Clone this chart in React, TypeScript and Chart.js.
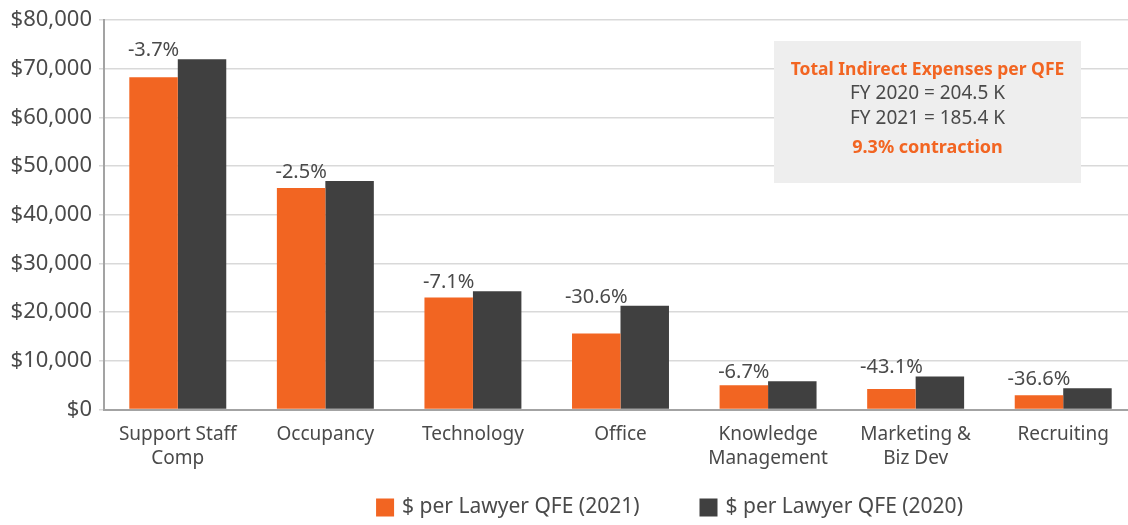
import React, { useEffect, useRef } from "react";
import { Chart, registerables } from "chart.js";

Chart.register(...registerables);

const categories: (string | string[])[] = [
  ["Support Staff", "Comp"],
  "Occupancy",
  "Technology",
  "Office",
  ["Knowledge", "Management"],
  ["Marketing &", "Biz Dev"],
  "Recruiting",
];
const values2021 = [68300, 45500, 23000, 15600, 5000, 4200, 2950];
const values2020 = [72000, 46950, 24300, 21300, 5800, 6800, 4380];
const changeLabels = ["-3.7%", "-2.5%", "-7.1%", "-30.6%", "-6.7%", "-43.1%", "-36.6%"];
const seriesNames = ["$ per Lawyer QFE (2021)", "$ per Lawyer QFE (2020)"];
const yMin = 0;
const yMax = 80000;
const yStep = 10000;
const noteTitle = "Total Indirect Expenses per QFE";
const noteLines = ["FY 2020 = 204.5 K", "FY 2021 = 185.4 K"];
const noteFooter = "9.3% contraction";

const ORANGE = "#f26522";
const DARK = "#404040";
const TEXT = "#4a4a4a";
const FONT = "'Noto Sans', sans-serif";

const overlayPlugin = {
  id: "overlay",
  afterDatasetsDraw(chart: any) {
    const ctx = chart.ctx;
    const m0 = chart.getDatasetMeta(0).data;
    const m1 = chart.getDatasetMeta(1).data;
    ctx.save();
    ctx.font = `20px ${FONT}`;
    ctx.fillStyle = TEXT;
    ctx.textAlign = "center";
    ctx.textBaseline = "middle";
    changeLabels.forEach((lab, i) => {
      const a = m0[i];
      const b = m1[i];
      if (!a || !b) return;
      ctx.fillText(lab, a.x, Math.min(a.y, b.y) - 9);
    });

    // note box
    const bx = 774, by = 41, bw = 307, bh = 142;
    ctx.fillStyle = "#eeeeee";
    ctx.fillRect(bx, by, bw, bh);
    const cx = bx + bw / 2;
    ctx.fillStyle = ORANGE;
    ctx.font = `bold 17.5px ${FONT}`;
    ctx.fillText(noteTitle, cx, 70);
    ctx.fillStyle = TEXT;
    ctx.font = `19px ${FONT}`;
    ctx.fillText(noteLines[0], cx, 94);
    ctx.fillText(noteLines[1], cx, 119);
    ctx.fillStyle = ORANGE;
    ctx.font = `bold 18px ${FONT}`;
    ctx.fillText(noteFooter, cx, 148);

    // legend
    ctx.font = `21px ${FONT}`;
    ctx.textAlign = "left";
    const box = 18, gap = 8, itemGap = 60;
    const w0 = ctx.measureText(seriesNames[0]).width;
    const w1 = ctx.measureText(seriesNames[1]).width;
    const total = box + gap + w0 + itemGap + box + gap + w1;
    let x = 669.5 - total / 2;
    const ly = 507.5;
    const colors = [ORANGE, DARK];
    [w0, w1].forEach((w, i) => {
      ctx.fillStyle = colors[i];
      ctx.fillRect(x, ly - box / 2, box, box);
      ctx.fillStyle = TEXT;
      ctx.fillText(seriesNames[i], x + box + gap, ly);
      x += box + gap + w + itemGap;
    });
    ctx.restore();
  },
};

function BarChart() {
  const ref = useRef<HTMLCanvasElement | null>(null);
  useEffect(() => {
    document.body.style.margin = "0";
    if (!ref.current) return;
    const chart = new Chart(ref.current, {
      type: "bar",
      data: {
        labels: categories,
        datasets: [
          { label: seriesNames[0], data: values2021, backgroundColor: ORANGE },
          { label: seriesNames[1], data: values2020, backgroundColor: DARK },
        ],
      },
      options: {
        responsive: false,
        animation: false,
        devicePixelRatio: 1,
        layout: { padding: { top: 17, bottom: 40, left: 0, right: 0 } },
        datasets: { bar: { categoryPercentage: 0.657, barPercentage: 1 } },
        plugins: { legend: { display: false }, tooltip: { enabled: false } },
        scales: {
          x: {
            grid: { display: false, drawTicks: false },
            border: { display: true, color: "#a3a3a3", width: 2 },
            ticks: {
              color: TEXT,
              font: { family: FONT, size: 19, lineHeight: 1.26 },
              padding: 13,
              maxRotation: 0,
              autoSkip: false,
            },
            afterFit: (s: any) => {
              s.height = 75.5;
            },
          },
          y: {
            min: yMin,
            max: yMax,
            grid: { color: "#d9d9d9", lineWidth: 1.5, tickLength: 5 },
            border: { display: true, color: "#a3a3a3", width: 2 },
            ticks: {
              stepSize: yStep,
              color: TEXT,
              font: { family: FONT, size: 22 },
              padding: 7,
              callback: (v: any) => "$" + Number(v).toLocaleString("en-US"),
            },
            afterFit: (s: any) => {
              s.width = 104;
            },
          },
        },
      },
      plugins: [overlayPlugin],
    });
    return () => chart.destroy();
  }, []);
  return <canvas ref={ref} width={1137} height={525} style={{ display: "block" }} />;
}

export default function App() {
  return (
    <div style={{ width: 1128, height: 525, overflow: "hidden", background: "#fff" }}>
      <BarChart />
    </div>
  );
}
